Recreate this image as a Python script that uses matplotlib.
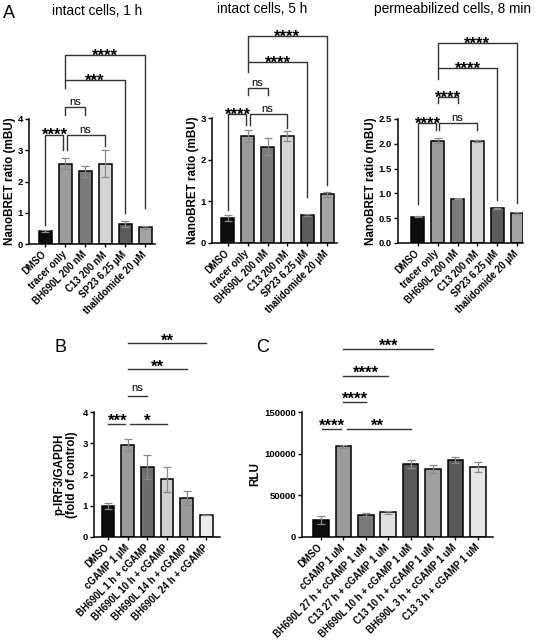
import numpy as np
import matplotlib.pyplot as plt

plt.rcParams['font.family'] = ['Liberation Sans', 'DejaVu Sans']
plt.rcParams['font.weight'] = 'bold'

W, H = 535, 641

# --- panel A data (NanoBRET ratio, mBU)
a_labels = ["DMSO", "tracer only", "BH690L 200 nM", "C13 200 nM",
            "SP23 6.25 µM", "thalidomide 20 µM"]
a1_mean = [0.41, 2.57, 2.33, 2.57, 0.64, 0.53]
a1_err = [0.03, 0.17, 0.18, 0.43, 0.10, 0.04]
a2_mean = [0.60, 2.57, 2.31, 2.57, 0.68, 1.17]
a2_err = [0.07, 0.15, 0.20, 0.13, 0.02, 0.06]
a3_mean = [0.53, 2.06, 0.89, 2.05, 0.70, 0.60]
a3_err = [0.01, 0.05, 0.01, 0.02, 0.01, 0.02]
a1_comps = [(0, 1, '****'), (1, 3, 'ns'), (1, 2, 'ns'), (1, 4, '***'), (1, 5, '****')]
a2_comps = [(0, 1, '****'), (1, 3, 'ns'), (1, 2, 'ns'), (1, 4, '****'), (1, 5, '****')]
a3_comps = [(0, 1, '****'), (1, 3, 'ns'), (1, 2, '****'), (1, 4, '****'), (1, 5, '****')]

# --- panel B data (p-IRF3/GAPDH, fold of control)
b_labels = ["DMSO", "cGAMP 1 µM", "BH690L 1 h + cGAMP", "BH690L 10 h + cGAMP",
            "BH690L 14 h + cGAMP", "BH690L 24 h + cGAMP"]
b_mean = [1.00, 2.95, 2.24, 1.85, 1.25, 0.70]
b_err = [0.10, 0.20, 0.37, 0.40, 0.22, 0.01]
b_comps = [(0, 1, '***'), (1, 3, '*'), (1, 2, 'ns'), (1, 4, '**'), (1, 5, '**')]

# --- panel C data (RLU)
c_labels = ["DMSO", "cGAMP 1 uM", "BH690L 27 h + cGAMP 1 uM", "C13 27 h + cGAMP 1 uM",
            "BH690L 10 h + cGAMP 1 uM", "C13 10 h + cGAMP 1 uM",
            "BH690L 3 h + cGAMP 1 uM", "C13 3 h + cGAMP 1 uM"]
c_mean = [20500, 109000, 27000, 29500, 87500, 81500, 92500, 84000]
c_err = [5000, 2000, 1800, 1500, 4500, 4500, 3500, 5500]
c_comps = [(0, 1, '****'), (1, 4, '**'), (1, 2, '****'), (1, 3, '****'), (1, 5, '***')]

# --- colours
a_colors = ['#0d0d0d', '#9c9c9c', '#7a7a7a', '#d4d4d4', '#5c5c5c', '#a4a4a4']
b_colors = ['#0d0d0d', '#9c9c9c', '#6e6e6e', '#d0d0d0', '#9a9a9a', '#ececec']
c_colors = ['#0d0d0d', '#9c9c9c', '#7a7a7a', '#e0e0e0', '#5a5a5a', '#a0a0a0',
            '#5a5a5a', '#e6e6e6']

fig = plt.figure(figsize=(W / 100, H / 100), dpi=100)


def px_axes(l, t, r, b):
    return fig.add_axes([l / W, 1 - b / H, (r - l) / W, (b - t) / H])


def bars(ax, labels, mean, err, colors, xlim, ylim, yticks, bw=0.65):
    x = np.arange(len(mean))
    ax.bar(x, mean, width=bw, color=colors, edgecolor='black', linewidth=1.1, zorder=2)
    ax.errorbar(x, mean, yerr=err, fmt='none', ecolor='#8a8a8a', elinewidth=0.9,
                capsize=2.8, capthick=0.9, zorder=3)
    ax.set_xlim(*xlim)
    ax.set_ylim(*ylim)
    ax.set_yticks(yticks)
    ax.set_xticks(x)
    ax.set_xticklabels(labels, rotation=45, ha='right', va='center',
                       rotation_mode='anchor', fontsize=6.9, fontweight='bold')
    ax.tick_params(axis='y', labelsize=6.8, length=3, width=1, pad=1.5)
    ax.tick_params(axis='x', length=2.5, width=1, pad=4)
    for s in ['top', 'right']:
        ax.spines[s].set_visible(False)
    for s in ['left', 'bottom']:
        ax.spines[s].set_linewidth(1.1)


def star_text(ax, x, y, label, dy_pt):
    # asterisks sit high in the glyph box, so move them down a bit
    if '*' in label:
        ax.annotate(label, (x, y), xytext=(0, dy_pt - 7.0), textcoords='offset points',
                    ha='center', va='baseline', fontsize=12, fontweight='bold',
                    annotation_clip=False)
    else:
        ax.annotate(label, (x, y), xytext=(0, dy_pt - 1.5), textcoords='offset points',
                    ha='center', va='baseline', fontsize=8, fontweight='normal',
                    annotation_clip=False)


def brackets(ax, comps, geom, dy_pt=3.0):
    # geom: (y of bar, left leg end, right leg end, left x shift, right x shift)
    for (i, j, lab), (y, yl, yr, sl, sr) in zip(comps, geom):
        xs = [i + sl, i + sl, j + sr, j + sr]
        ax.plot(xs, [yl, y, y, yr], color='#333333', lw=1.0, clip_on=False, zorder=4)
        star_text(ax, (i + j) / 2, y, lab, dy_pt)


def lines(ax, comps, geom, dy_pt=5.5):
    # geom: (y of line, start shift, end shift)
    for (i, j, lab), (y, s0, s1) in zip(comps, geom):
        ax.plot([i + s0, j + s1], [y, y], color='#333333', lw=1.0, clip_on=False, zorder=4)
        star_text(ax, (i + j) / 2, y, lab, dy_pt)


ylab_kw = dict(fontsize=8.4, fontweight='bold')

# --- panel A, intact 1 h
ax1 = px_axes(29, 119, 155, 244)
bars(ax1, a_labels, a1_mean, a1_err, a_colors, (-0.8, 5.5), (0, 4), [0, 1, 2, 3, 4])
ax1.set_ylabel("NanoBRET ratio (mBU)", labelpad=1, **ylab_kw)
brackets(ax1, a1_comps, [(3.5, 0.62, 3.0, 0, -0.09), (3.5, 3.0, 3.15, 0.09, 0),
                         (4.38, 4.13, 4.13, 0, 0), (5.25, 5.0, 1.0, 0, 0),
                         (6.05, 5.25, 1.15, 0, 0)])

# --- panel A, intact 5 h
ax2 = px_axes(212, 118, 337, 243)
bars(ax2, a_labels, a2_mean, a2_err, a_colors, (-0.8, 5.5), (0, 3), [0, 1, 2, 3])
ax2.set_ylabel("NanoBRET ratio (mBU)", labelpad=1, **ylab_kw)
brackets(ax2, a2_comps, [(3.1, 0.8, 2.83, 0, -0.09), (3.1, 2.83, 2.76, 0.09, 0),
                         (3.72, 3.55, 3.55, 0, 0), (4.35, 4.1, 1.1, 0, 0),
                         (4.97, 4.35, 1.4, 0, 0)])

# --- panel A, permeabilized 8 min
ax3 = px_axes(398, 119, 523, 243)
bars(ax3, a_labels, a3_mean, a3_err, a_colors, (-1.0, 5.3), (0, 2.5),
     [0, 0.5, 1.0, 1.5, 2.0, 2.5])
ax3.set_yticklabels(["0.0", "0.5", "1.0", "1.5", "2.0", "2.5"])
ax3.set_ylabel("NanoBRET ratio (mBU)", labelpad=1, **ylab_kw)
brackets(ax3, a3_comps, [(2.42, 0.78, 2.28, 0, -0.09), (2.42, 2.28, 2.27, 0.09, 0),
                         (2.94, 2.82, 2.82, 0, 0), (3.53, 3.3, 0.87, 0, 0),
                         (4.03, 3.53, 0.8, 0, 0)])

# --- panel B
axb = px_axes(94, 412, 220, 537)
bars(axb, b_labels, b_mean, b_err, b_colors, (-0.71, 5.7), (0, 4), [0, 1, 2, 3, 4])
axb.set_ylabel("p-IRF3/GAPDH\n(fold of control)", labelpad=3, linespacing=1.05, **ylab_kw)
lines(axb, b_comps, [(3.62, 0.02, -0.13), (3.62, 0.13, 0.0), (4.5, 0.02, -0.02),
                     (5.37, 0.02, 0.0), (6.2, 0.02, 0.0)])

# --- panel C
axc = px_axes(302, 412, 493, 537)
bars(axc, c_labels, c_mean, c_err, c_colors, (-0.85, 7.68), (0, 150000),
     [0, 50000, 100000, 150000], bw=0.7)
axc.set_ylabel("RLU", labelpad=2, **ylab_kw)
lines(axc, c_comps, [(129600, 0.05, -0.1), (129600, 0.16, 0.0), (162000, 0.0, 0.0),
                     (193200, 0.0, 0.0), (225600, 0.0, 0.0)])

# --- titles and panel letters
title_kw = dict(ha='center', va='center', fontsize=9.8, fontweight='normal')
fig.text(97 / W, 1 - 11 / H, "intact cells, 1 h", **title_kw)
fig.text(262 / W, 1 - 9 / H, "intact cells, 5 h", **title_kw)
fig.text(453 / W, 1 - 9 / H, "permeabilized cells, 8 min", **title_kw)
fig.text(3 / W, 1 - 14 / H, "A", ha='left', va='center', fontsize=13, fontweight='normal')
fig.text(54 / W, 1 - 347 / H, "B", ha='left', va='center', fontsize=13, fontweight='normal')
fig.text(256 / W, 1 - 347 / H, "C", ha='left', va='center', fontsize=13, fontweight='normal')

fig.savefig("out.png", dpi=100)
